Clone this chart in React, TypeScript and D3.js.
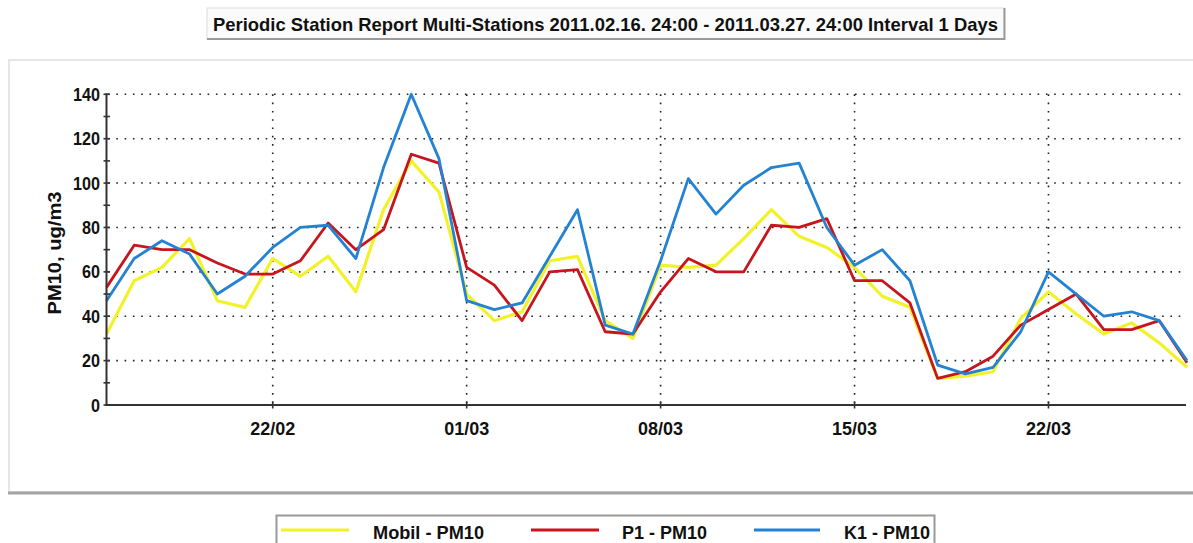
import React from "react";
import * as d3 from "d3";

const startDate = new Date(2011, 1, 16);
const endDate = new Date(2011, 2, 27);
const days = d3.timeDay.range(startDate, d3.timeDay.offset(endDate, 1));

const mobil = [32, 56, 62, 75, 47, 44, 66, 58, 67, 51, 88, 110, 96, 50, 38, 42, 65, 67, 38, 30, 63, 62, 63, 75, 88, 76, 71, 62, 49, 44, 12, 13, 15, 39, 51, 41, 32, 37, 28, 17];
const p1 = [53, 72, 70, 70, 64, 59, 59, 65, 82, 70, 79, 113, 109, 62, 54, 38, 60, 61, 33, 32, 51, 66, 60, 60, 81, 80, 84, 56, 56, 46, 12, 15, 22, 36, 43, 50, 34, 34, 38, 19];
const k1 = [47, 66, 74, 68, 50, 58, 71, 80, 81, 66, 107, 140, 111, 47, 43, 46, 67, 88, 36, 32, 65, 102, 86, 99, 107, 109, 80, 63, 70, 56, 18, 14, 17, 33, 60, 50, 40, 42, 38, 20];

const seriesNames = ["Mobil - PM10", "P1 - PM10", "K1 - PM10"];
const seriesColors = ["#f2f22a", "#c8141c", "#2382d2"];
const seriesData = [mobil, p1, k1];

const xTickDates = [new Date(2011, 1, 22), new Date(2011, 2, 1), new Date(2011, 2, 8), new Date(2011, 2, 15), new Date(2011, 2, 22)];
const yMajorTicks = [0, 20, 40, 60, 80, 100, 120, 140];
const yMinorTicks = [10, 30, 50, 70, 90, 110, 130];

const titleText = "Periodic Station Report Multi-Stations 2011.02.16. 24:00 - 2011.03.27. 24:00 Interval 1 Days";
const yLabel = "PM10, ug/m3";

const FONT = "'Liberation Sans', Arial, Helvetica, sans-serif";

export default function App() {
  const W = 1193, H = 543;
  const x = d3.scaleTime().domain([startDate, endDate]).range([106.5, 1187]);
  const y = d3.scaleLinear().domain([0, 140]).range([405, 94.3]);
  const fmt = d3.timeFormat("%d/%m");
  const line = d3.line<number>().x((_, i) => x(days[i])).y((v) => y(v));

  const legendItems = [
    { lx1: 281, lx2: 349, tx: 373, tl: 111 },
    { lx1: 531, lx2: 599, tx: 622, tl: 85 },
    { lx1: 754, lx2: 820, tx: 844, tl: 86 },
  ];

  return (
    <svg width={W} height={H} style={{ position: "absolute", left: 0, top: 0, background: "#fff" }} fontFamily={FONT}>
      {/* title box */}
      <rect x={207} y={8} width={797} height={31} fill="#fbfbfb" stroke="#dcdcdc" strokeWidth={1} />
      <line x1={207} y1={39} x2={1005} y2={39} stroke="#9a9a9a" strokeWidth={2} />
      <line x1={1004.5} y1={8} x2={1004.5} y2={40} stroke="#9a9a9a" strokeWidth={2} />
      <text x={213} y={31} fontSize={19} fontWeight="bold" fill="#111" textLength={785} lengthAdjust="spacingAndGlyphs">{titleText}</text>

      {/* panel */}
      <rect x={9} y={60} width={1190} height={432} fill="#fff" stroke="#e6e6e6" strokeWidth={2} />
      <line x1={8} y1={493} x2={1193} y2={493} stroke="#a4a4a4" strokeWidth={3} />

      {/* horizontal grid */}
      {yMajorTicks.filter((t) => t > 0).map((t) => (
        <line key={"hg" + t} x1={108} x2={1186} y1={y(t)} y2={y(t)} stroke="#222" strokeWidth={1.6} strokeDasharray="1.6 6.7" />
      ))}
      {/* vertical grid */}
      {xTickDates.map((d, i) => (
        <line key={"vg" + i} x1={x(d)} x2={x(d)} y1={y(140)} y2={y(0)} stroke="#222" strokeWidth={1.6} strokeDasharray="1.6 6.7" />
      ))}

      {/* series */}
      {seriesData.map((s, i) => (
        <path key={"s" + i} d={line(s) || ""} fill="none" stroke={seriesColors[i]} strokeWidth={i === 0 ? 3.2 : 2.8} strokeLinejoin="round" />
      ))}

      {/* axes */}
      <line x1={106.5} x2={106.5} y1={y(140) - 1} y2={y(0) + 1} stroke="#333" strokeWidth={2} />
      <line x1={105.5} x2={1186} y1={y(0)} y2={y(0)} stroke="#333" strokeWidth={2} />
      {yMajorTicks.map((t) => (
        <g key={"yt" + t}>
          <line x1={103.5} x2={110} y1={y(t)} y2={y(t)} stroke="#333" strokeWidth={1.6} />
          <text x={100} y={y(t) + 6.5} textAnchor="end" fontSize={18} fontWeight="bold" fill="#111" textLength={t >= 100 ? 27 : t > 0 ? 18 : 9} lengthAdjust="spacingAndGlyphs">{t}</text>
        </g>
      ))}
      {yMinorTicks.map((t) => (
        <line key={"ym" + t} x1={103.5} x2={110} y1={y(t)} y2={y(t)} stroke="#333" strokeWidth={1.6} />
      ))}
      {xTickDates.map((d, i) => (
        <g key={"xt" + i}>
          <line x1={x(d)} x2={x(d)} y1={401.5} y2={408.5} stroke="#333" strokeWidth={1.6} />
          <text x={x(d)} y={435} textAnchor="middle" fontSize={18} fontWeight="bold" fill="#111" textLength={45} lengthAdjust="spacingAndGlyphs">{fmt(d)}</text>
        </g>
      ))}
      <text transform="translate(61,253) rotate(-90)" textAnchor="middle" fontSize={19} fontWeight="bold" fill="#111" textLength={123} lengthAdjust="spacingAndGlyphs">{yLabel}</text>

      {/* legend */}
      <rect x={276.5} y={515.5} width={658} height={40} fill="#fff" stroke="#9a9a9a" strokeWidth={2} />
      {legendItems.map((it, i) => (
        <g key={"lg" + i}>
          <line x1={it.lx1} x2={it.lx2} y1={530} y2={530} stroke={seriesColors[i]} strokeWidth={3.2} />
          <text x={it.tx} y={538.5} fontSize={18} fontWeight="bold" fill="#111" textLength={it.tl} lengthAdjust="spacingAndGlyphs">{seriesNames[i]}</text>
        </g>
      ))}
    </svg>
  );
}
